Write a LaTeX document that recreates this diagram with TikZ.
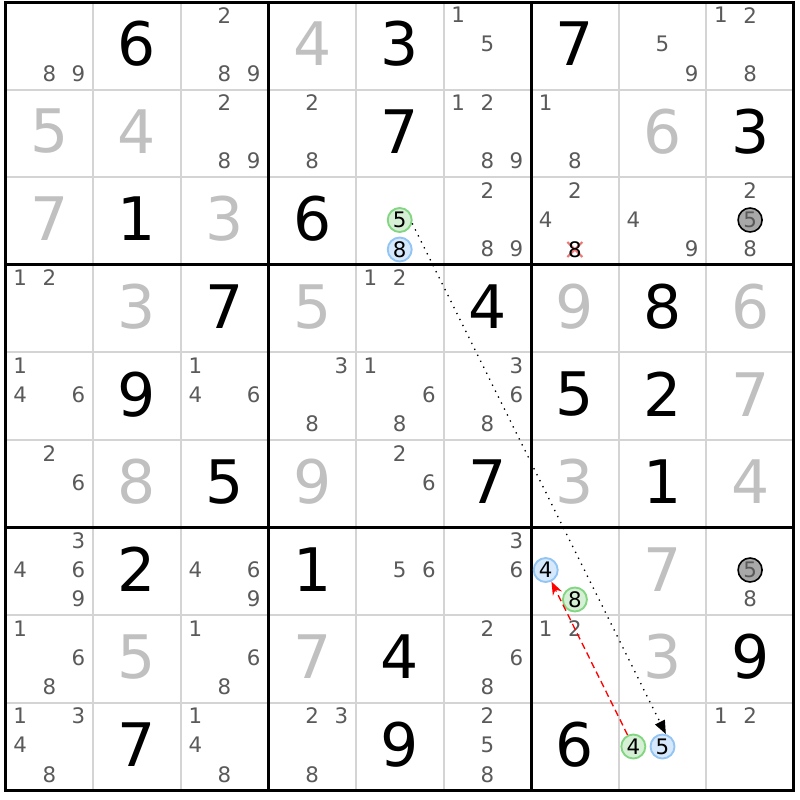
\documentclass[tikz,border=0pt]{standalone}
\usepackage{fontspec}
\setmainfont{DejaVu Sans}
\usetikzlibrary{arrows.meta}
\definecolor{solvedgray}{RGB}{192,192,192}
\definecolor{candgray}{RGB}{90,90,90}
\definecolor{thingray}{RGB}{212,212,212}
\definecolor{onfill}{RGB}{214,240,214}
\definecolor{online}{RGB}{130,214,130}
\definecolor{offfill}{RGB}{214,232,252}
\definecolor{offline}{RGB}{146,196,244}
\definecolor{crossred}{RGB}{238,120,120}
\definecolor{pivotfill}{RGB}{168,168,168}
\tikzset{
  given/.style={inner sep=0pt, font=\fontsize{45}{45}\selectfont, text=black},
  solved/.style={given, text=solvedgray},
  cand/.style={inner sep=0pt, font=\fontsize{16}{16}\selectfont, text=candgray},
  oncand/.style={cand, circle, text=black, draw=online, fill=onfill, line width=1.4pt, minimum size=18pt},
  offcand/.style={oncand, draw=offline, fill=offfill},
  pivotcand/.style={cand, circle, draw=black, fill=pivotfill, line width=1.2pt, minimum size=18pt},
  weaklink/.style={line width=1pt, dash pattern=on 1pt off 4pt, -{Triangle[length=10pt,width=8pt]}},
  stronglink/.style={red, line width=1pt, dash pattern=on 5pt off 3pt, -{Stealth[length=10pt,width=7.5pt]}},
}
\begin{document}
\begin{tikzpicture}[x=0.75pt,y=0.75pt,yscale=-1,xscale=1]
\useasboundingbox (0,0) rectangle (800,800);
\fill[white] (0,0) rectangle (800,800);

%Straight Lines: cell borders
\foreach \i in {1,2,4,5,7,8}{
  \draw[thingray, line width=1.5pt] ({5.5+\i*87.6},2) -- ({5.5+\i*87.6},790.4);
  \draw[thingray, line width=1.5pt] (5.5,{2+\i*87.6}) -- (793.9,{2+\i*87.6});
}
%Straight Lines: box borders
\foreach \i in {3,6}{
  \draw[line width=2.25pt] ({5.5+\i*87.6},2) -- ({5.5+\i*87.6},790.4);
  \draw[line width=2.25pt] (5.5,{2+\i*87.6}) -- (793.9,{2+\i*87.6});
}
\draw[line width=2.25pt] (5.5,2) rectangle (793.9,790.4);

% Text Node: givens
\foreach \r/\c/\v in {1/2/6,1/5/3,1/7/7,2/5/7,2/9/3,3/2/1,3/4/6,4/3/7,4/6/4,4/8/8,
  5/2/9,5/7/5,5/8/2,6/3/5,6/6/7,6/8/1,7/2/2,7/4/1,8/5/4,8/9/9,9/2/7,9/5/9,9/7/6}
  \node[given] (g\r\c) at ({5.5+(\c-0.5)*87.6},{(\r-0.5)*87.6}) {\v};
% Text Node: solved
\foreach \r/\c/\v in {1/4/4,2/1/5,2/2/4,2/8/6,3/1/7,3/3/3,4/2/3,4/4/5,4/7/9,4/9/6,
  5/9/7,6/2/8,6/4/9,6/7/3,6/9/4,7/8/7,8/2/5,8/4/7,8/8/3}
  \node[solved] (s\r\c) at ({5.5+(\c-0.5)*87.6},{(\r-0.5)*87.6}) {\v};

% Text Node: candidates
\foreach \r/\c/\d in {1/1/8,1/1/9,1/3/2,1/3/8,1/3/9,1/6/1,1/6/5,1/8/5,1/8/9,1/9/1,1/9/2,1/9/8,
  2/3/2,2/3/8,2/3/9,2/4/2,2/4/8,2/6/1,2/6/2,2/6/8,2/6/9,2/7/1,2/7/8,
  3/6/2,3/6/8,3/6/9,3/7/2,3/7/4,3/8/4,3/8/9,3/9/2,3/9/8,
  4/1/1,4/1/2,4/5/1,4/5/2,
  5/1/1,5/1/4,5/1/6,5/3/1,5/3/4,5/3/6,5/4/3,5/4/8,5/5/1,5/5/6,5/5/8,5/6/3,5/6/6,5/6/8,
  6/1/2,6/1/6,6/5/2,6/5/6,
  7/1/3,7/1/4,7/1/6,7/1/9,7/3/4,7/3/6,7/3/9,7/5/5,7/5/6,7/6/3,7/6/6,7/9/8,
  8/1/1,8/1/6,8/1/8,8/3/1,8/3/6,8/3/8,8/6/2,8/6/6,8/6/8,8/7/1,8/7/2,
  9/1/1,9/1/3,9/1/4,9/1/8,9/3/1,9/3/4,9/3/8,9/4/2,9/4/3,9/4/8,9/6/2,9/6/5,9/6/8,9/9/1,9/9/2}{
  \pgfmathsetmacro{\cx}{5.5+(\c-1)*87.6+(mod(\d-1,3)+0.5)*29.2}
  \pgfmathsetmacro{\cy}{2+(\r-1)*87.6+(floor((\d-1)/3)+0.5)*29.2-1.5}
  \node[cand] (c\r\c\d) at (\cx,\cy) {\d};
}

%Shape: eliminated candidate
\coordinate (x378) at (574.9,249.5);
\draw[crossred, line width=1.5pt] ([shift={(-7.5,-7.5)}]x378) -- ([shift={(7.5,7.5)}]x378)
  ([shift={(-7.5,7.5)}]x378) -- ([shift={(7.5,-7.5)}]x378);
\node[cand, text=black] (c378) at (x378) {8};

% Text Node: chain candidates
\node[oncand] (c355) at (399.7,220) {5};
\node[offcand] (c358) at (399.7,249.5) {8};
\node[pivotcand] (c395) at (750.1,220) {5};
\node[offcand] (c774) at (545.7,570) {4};
\node[oncand] (c778) at (574.9,599.5) {8};
\node[pivotcand] (c795) at (750.1,570) {5};
\node[oncand] (c984) at (633.3,746.5) {4};
\node[offcand] (c985) at (662.5,746.5) {5};

%Straight Lines: links
\draw[weaklink] (c355.-15) -- (c985.75);
\draw[stronglink] (c984) -- (c774);

\end{tikzpicture}
\end{document}
